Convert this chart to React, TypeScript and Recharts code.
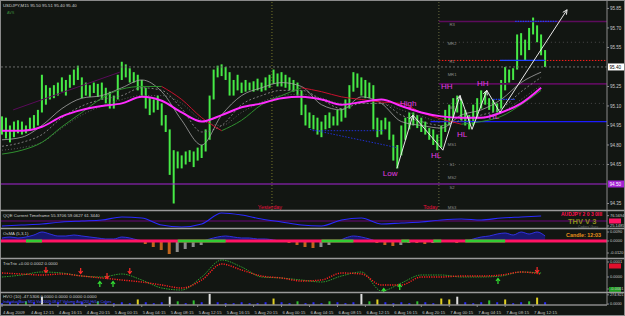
import React from 'react'
import { ComposedChart, Bar, Line, Area, Scatter, XAxis, YAxis, ReferenceLine, Cell } from 'recharts'

// USDJPY,M15 4-7 Aug 2009, one candle sample every 2 bars
const candleHigh = [
  95.02, 95.01, 94.95, 94.98, 94.99, 94.98, 94.95, 95.01, 95.03, 95.07,
  95.34, 95.26, 95.24, 95.26, 95.28, 95.32, 95.3, 95.34, 95.38, 95.41,
  95.32, 95.28, 95.26, 95.28, 95.27, 95.28, 95.24, 95.21, 95.18, 95.34,
  95.44, 95.42, 95.39, 95.36, 95.34, 95.3, 95.24, 95.16, 95.15, 95.18,
  95.12, 95.03, 94.92, 94.76, 94.75, 94.72, 94.75, 94.76, 94.75, 94.78,
  94.8, 94.92, 95.18, 95.38, 95.41, 95.42, 95.4, 95.36, 95.3, 95.34,
  95.28, 95.3, 95.28, 95.29, 95.31, 95.28, 95.32, 95.34, 95.38, 95.35,
  95.36, 95.34, 95.32, 95.3, 95.28, 95.22, 95.11, 95.05, 95.03, 95.01,
  94.98, 95.03, 95.05, 95.02, 95.07, 95.08, 95.15, 95.26, 95.36, 95.35,
  95.32, 95.3, 95.28, 95.26, 95.01, 94.99, 95.01, 94.98, 94.88, 94.8,
  94.95, 95.01, 95.05, 95.05, 95.03, 95.01, 94.98, 94.93, 94.92, 94.88,
  94.95, 95.07, 95.11, 95.16, 95.18, 95.15, 95.07, 95.03, 95.11, 95.16,
  95.22, 95.21, 95.16, 95.15, 95.12, 95.3, 95.4, 95.38, 95.39, 95.65,
  95.66, 95.61, 95.7, 95.78, 95.72, 95.65, 95.53,
]
const candleLow = [
  94.88, 94.85, 94.82, 94.86, 94.89, 94.88, 94.89, 94.92, 94.93, 94.95,
  95.05, 95.11, 95.15, 95.16, 95.18, 95.21, 95.18, 95.24, 95.26, 95.3,
  95.16, 95.18, 95.17, 95.2, 95.17, 95.15, 95.12, 95.08, 95.08, 95.15,
  95.3, 95.32, 95.28, 95.28, 95.22, 95.18, 95.08, 95.03, 95.05, 95.07,
  94.95, 94.9, 94.57, 94.35, 94.62, 94.62, 94.65, 94.67, 94.63, 94.68,
  94.7, 94.75, 94.84, 95.15, 95.32, 95.33, 95.3, 95.18, 95.18, 95.22,
  95.2, 95.21, 95.22, 95.21, 95.22, 95.21, 95.22, 95.24, 95.27, 95.25,
  95.25, 95.24, 95.22, 95.21, 95.18, 95.03, 94.95, 94.93, 94.92, 94.88,
  94.86, 94.92, 94.93, 94.95, 94.95, 94.98, 95.01, 95.08, 95.21, 95.24,
  95.18, 95.16, 95.16, 94.92, 94.86, 94.88, 94.92, 94.84, 94.68, 94.62,
  94.72, 94.84, 94.92, 94.95, 94.93, 94.9, 94.88, 94.84, 94.8, 94.76,
  94.78, 94.9, 94.95, 95.01, 95.05, 94.99, 94.95, 94.92, 94.95, 95.01,
  95.08, 95.11, 95.07, 95.05, 95.05, 95.08, 95.22, 95.28, 95.3, 95.38,
  95.49, 95.45, 95.53, 95.65, 95.59, 95.49, 95.4,
]

// moving averages, one value every 5 candle samples
const MA_STEP = 5
const maMagenta = [94.91, 94.91, 94.94, 95.02, 95.07, 95.1, 95.12, 95.17, 95.14, 95.05, 94.98, 95.03, 95.09, 95.12, 95.16, 95.17, 95.15, 95.11, 95.13, 95.15, 95.1, 95.05, 95.02, 95.01, 95.01, 95.05, 95.12, 95.24]
const maTrend = [94.73, 94.76, 94.82, 94.94, 95.05, 95.16, 95.23, 95.25, 95.25, 95.15, 95.01, 94.91, 94.99, 95.11, 95.18, 95.24, 95.21, 95.17, 95.15, 95.13, 95.12, 95.05, 95.0, 94.96, 94.98, 95.02, 95.11, 95.22]
const maFast = [94.84, 94.86, 94.95, 95.08, 95.16, 95.18, 95.24, 95.3, 95.21, 94.99, 94.8, 95.03, 95.18, 95.24, 95.28, 95.25, 95.11, 95.07, 95.17, 95.12, 94.98, 94.95, 94.93, 95.03, 95.07, 95.15, 95.28, 95.36]
const maMid = [94.79, 94.82, 94.88, 95.01, 95.1, 95.15, 95.18, 95.24, 95.22, 95.08, 94.9, 94.95, 95.11, 95.18, 95.22, 95.22, 95.15, 95.08, 95.12, 95.12, 95.03, 94.98, 94.95, 94.99, 95.03, 95.08, 95.21, 95.32]
const maSlow = [94.76, 94.78, 94.82, 94.93, 95.03, 95.1, 95.15, 95.18, 95.18, 95.12, 94.99, 94.95, 95.05, 95.13, 95.18, 95.19, 95.16, 95.12, 95.12, 95.12, 95.07, 95.02, 94.98, 94.98, 95.01, 95.05, 95.15, 95.26]

// zigzag swings
const zigX = [98.9, 102.9, 110.4, 114.7, 117.7, 121.4, 124.7, 141.5]
const zigP = [94.62, 95.03, 94.76, 95.18, 94.92, 95.22, 95.05, 95.84]
const swingNames = ['Low', 'High', 'HL', 'HH', 'HL', 'HH', 'HL']
const swingX = [97.2, 101.7, 108.7, 111.4, 115.2, 120.4, 123.2]
const swingP = [94.58, 95.12, 94.72, 95.25, 94.88, 95.27, 95.02]

// daily pivots
const pivotNames = ['R3', 'MR2', 'R1', 'MR1', 'M2', 'MS1', 'S1', 'MS2', 'S2', 'MS3']
const pivotLabelP = [95.73, 95.58, 95.44, 95.34, 95.09, 94.8, 94.65, 94.55, 94.47, 94.32]
const pivotDark = [95.75, 95.27]
const pivotRed = 95.45
const pivotFaint = [95.59, 95.12, 94.65]
const blueLevel = 94.98
const blueLevelFrom = 107.3
const blueSegFrom = [128.5, 124.7, 123]
const blueSegTo = [139, 136, 128.5]
const blueSegP = [95.75, 95.45, 95.15]
const blueDiagX = [77.1, 98.9]
const blueDiagP = [94.92, 94.78]
const blueFlatX = [77.8, 95.9]
const blueFlatP = 94.91
const trendLineX = [2.8, 29.5]
const trendLineP = [95.07, 95.36]

const yesterdayX = 67.6
const todayX = 109.4
const lastPrice = 95.4
const roundLevel = 94.5
const priceTicks = [95.85, 95.7, 95.55, 95.25, 95.1, 94.95, 94.8, 94.65, 94.35]

const timeTicks = [0, 7, 14, 21, 28, 35, 42, 49, 56, 63, 70, 77, 84, 91, 98, 105, 112, 119, 126, 133]
const timeLabels = [
  '4 Aug 2009', '4 Aug 12:15', '4 Aug 16:15', '4 Aug 20:15', '5 Aug 00:15', '5 Aug 04:15', '5 Aug 08:15',
  '5 Aug 12:15', '5 Aug 16:15', '5 Aug 20:15', '6 Aug 00:15', '6 Aug 04:15', '6 Aug 08:15', '6 Aug 12:15',
  '6 Aug 16:15', '6 Aug 20:15', '7 Aug 00:15', '7 Aug 04:15', '7 Aug 08:15', '7 Aug 12:15',
]

// sub windows
const qqe = [25, 30, 35, 45, 50, 55, 70, 65, 30, 20, 35, 90, 80, 60, 45, 30, 25, 55, 65, 35, 40, 45, 55, 60, 55, 65, 70, 75]
const qqeTicks = [76.5694, 25.1485]
const trixRed = [0.4, 0.3, 0.2, 0.3, 0.1, -0.1, -0.3, -0.5, -0.8, -1.1, -0.3, 1.3, 0.7, 0.1, -0.1, -0.4, -0.3, 0.4, 0.3, -0.8, -0.8, 0, 0, 0.1, 0.1, 0.2, 0.5, 0.3]
const trixGreen = [0, 0.2, 0.5, 0.4, 0.1, 0, 0.3, -0.3, -1.1, -1.3, 0, 1.7, 1.0, 0, -0.1, -0.3, -0.5, 0.1, 0.5, -1.4, -0.6, 0.2, 0.2, 0, 0, 0.1, 0.5, 0.4]
const trixDownX = [11, 19.7, 26.3, 32, 134]
const trixDownV = [0.7, 0.6, 0.1, 0.6, 0.7]
const trixUpX = [24.5, 27.8, 95.6, 99.6, 124.2]
const trixUpV = [-0.7, -0.7, -1.4, -1.0, -0.4]
const OSC_STEP = 2
const osma = [
  0.003, 0.004, 0.003, 0.004, 0.006, 0.009, 0.007, 0.005, 0.005, 0.006,
  0.005, 0.004, 0.003, 0.002, 0.002, 0.004, 0.003, 0.001, -0.003, -0.006,
  -0.009, -0.013, -0.011, -0.008, -0.006, -0.004, 0.002, 0.004, 0.005, 0.004,
  0.003, 0.003, 0.002, 0.002, 0.001, -0.001, -0.002, -0.004, -0.006, -0.007,
  -0.006, -0.004, -0.001, 0.003, 0.005, 0.004, 0.002, -0.002, -0.004, -0.005,
  -0.004, -0.002, -0.002, -0.003, -0.002, -0.001, -0.001, -0.002, -0.001, 0.002,
  0.004, 0.005, 0.007, 0.008, 0.006, 0.009, 0.007, 0.009, 0.005,
]
const hvo = [
  2, 3, 2, 4, 3, 9, 2, 3, 2, 2,
  3, 2, 4, 2, 2, 3, 2, 6, 3, 2,
  3, 9, 4, 2, 5, 3, 12, 3, 2, 2,
  3, 2, 2, 3, 7, 3, 2, 4, 2, 3,
  2, 4, 3, 2, 3, 12, 4, 6, 3, 2,
  3, 2, 4, 3, 2, 7, 6, 9, 3, 2,
  3, 5, 3, 6, 2, 3, 4, 8, 3,
]

const W = 625
const PLOT_W = 607
const X_DOMAIN: [number, number] = [-0.5, 151.5]
const P_DOMAIN: [number, number] = [94.3, 95.915]
const MAIN_H = 210
const FONT = '"Liberation Sans", Arial, sans-serif'
const BG = '#121612'
const GRID = '#8a8a8a'
const M0 = { top: 0, right: 0, bottom: 0, left: 0 }
const axisTick = { fill: '#c8c8c8', fontSize: 4.5, fontFamily: FONT }

const candleRows = candleHigh.map((h, i) => ({ i, range: [candleLow[i], h] }))
const rising = (k: number) => maTrend[k] >= maTrend[k - 1]
const maRows = maMagenta.map((v, k) => {
  const n = maTrend.length
  const up = (k > 0 && rising(k)) || (k < n - 1 && rising(k + 1))
  const down = (k > 0 && !rising(k)) || (k < n - 1 && !rising(k + 1))
  return {
    i: k * MA_STEP,
    magenta: v,
    fast: maFast[k],
    mid: maMid[k],
    slow: maSlow[k],
    up: up ? maTrend[k] : null,
    down: down ? maTrend[k] : null,
    qqe: qqe[k],
    tr: trixRed[k],
    tg: trixGreen[k],
  }
})
const zigRows = zigX.map((x, k) => ({ i: x, p: zigP[k] }))
const swingRows = swingNames.map((name, k) => ({ i: swingX[k], p: swingP[k], name }))
const pivotRows = pivotNames.map((name, k) => ({ i: todayX + 3.3, p: pivotLabelP[k], name }))
const trixDownRows = trixDownX.map((x, k) => ({ i: x, v: trixDownV[k] }))
const trixUpRows = trixUpX.map((x, k) => ({ i: x, v: trixUpV[k] }))
const oscRows = osma.map((v, j) => ({
  i: j * OSC_STEP,
  pos: v > 0 ? v : 0,
  neg: v < 0 ? v : null,
  zg: j > 0 && v > osma[j - 1] ? 0 : null,
  hvo: hvo[j],
}))

const pxPerI = PLOT_W / (X_DOMAIN[1] - X_DOMAIN[0])
const pxPerP = MAIN_H / (P_DOMAIN[1] - P_DOMAIN[0])

// arrowheads at the top of every up-leg of the zigzag
function ZigArrow(props: any) {
  const { cx, cy, index } = props
  if (!index || cx == null) return <g key={`za${index}`} />
  const dx = (zigX[index] - zigX[index - 1]) * pxPerI
  const dy = -(zigP[index] - zigP[index - 1]) * pxPerP
  if (dy >= 0) return <g key={`za${index}`} />
  const a = Math.atan2(dy, dx)
  const L = 5
  const x1 = cx - L * Math.cos(a - 0.45)
  const y1 = cy - L * Math.sin(a - 0.45)
  const x2 = cx - L * Math.cos(a + 0.45)
  const y2 = cy - L * Math.sin(a + 0.45)
  return <path key={`za${index}`} d={`M${x1},${y1}L${cx},${cy}L${x2},${y2}`} stroke="#e8e8e8" fill="none" strokeWidth={1} />
}

// high-low candle, centred on the bar slot
function CandleShape(p: any) {
  const { x, y, width, height } = p
  if (x == null || y == null || height == null) return <g />
  const cx = x + width / 2
  const top = Math.min(y, y + height)
  return <rect x={cx - 1} y={top} width={2} height={Math.max(Math.abs(height), 1)} fill="#46ea46" />
}

const textShape = (fill: string, size: number) => (p: any) => (
  <text x={p.cx} y={p.cy} fill={fill} fontSize={size} fontFamily={FONT} textAnchor="middle" dominantBaseline="central">
    {p.payload.name}
  </text>
)

const arrowShape = (up: boolean) => (p: any) => {
  const { cx, cy } = p
  const c = up ? '#33e033' : '#ff2a2a'
  const d = up
    ? `M${cx},${cy + 3}L${cx},${cy - 2}M${cx - 2},${cy}L${cx},${cy - 2.5}L${cx + 2},${cy}`
    : `M${cx},${cy - 3}L${cx},${cy + 2}M${cx - 2},${cy}L${cx},${cy + 2.5}L${cx + 2},${cy}`
  return <path d={d} stroke={c} strokeWidth={1.2} fill="none" />
}

const priceBox = (bg: string, fg: string, text: string) => (props: any) => {
  const vb = props.viewBox
  if (!vb) return null
  const x = vb.x + vb.width + 1
  return (
    <g>
      <rect x={x} y={vb.y - 3.5} width={16} height={7} fill={bg} />
      <text x={x + 1.5} y={vb.y + 1.7} fill={fg} fontSize={4.6} fontFamily={FONT}>
        {text}
      </text>
    </g>
  )
}

const dayLabel = (text: string, anchor: 'middle' | 'end', dx: number) => (props: any) => {
  const vb = props.viewBox
  if (!vb) return null
  return (
    <text x={vb.x + dx} y={vb.y + vb.height - 1} fill="#e8103c" fontSize={5.5} fontFamily={FONT} textAnchor={anchor}>
      {text}
    </text>
  )
}

const smallBox = (bg: string) => (props: any) => {
  const vb = props.viewBox
  if (!vb) return null
  return <rect x={vb.x + vb.width + 2} y={vb.y - 2.5} width={12} height={5} fill={bg} />
}

function TimeTick(props: any) {
  const { x, y, index } = props
  return (
    <text x={x + 1} y={y + 4.5} fill="#c0c0c0" fontSize={4.3} fontFamily={FONT}>
      {timeLabels[index]}
    </text>
  )
}

const xAxisHidden = <XAxis type="number" dataKey="i" domain={X_DOMAIN} allowDataOverflow hide />

function yAxis(domain: [number, number], ticks: number[], fmt: (v: number) => string, size = 4.5) {
  return (
    <YAxis
      orientation="right"
      width={18}
      domain={domain}
      allowDataOverflow
      ticks={ticks}
      interval={0}
      tickFormatter={fmt}
      tick={{ ...axisTick, fontSize: size }}
      tickSize={2}
      tickMargin={1}
      tickLine={{ stroke: GRID }}
      axisLine={{ stroke: GRID }}
    />
  )
}

function PriceChart() {
  const end = X_DOMAIN[1]
  return (
    <ComposedChart width={W} height={MAIN_H} data={candleRows} margin={M0}>
      {xAxisHidden}
      {yAxis(P_DOMAIN, priceTicks, (v) => v.toFixed(2))}
      <ReferenceLine y={roundLevel} stroke="#a424d4" strokeWidth={1.2} label={priceBox('#a424d4', '#ffffff', roundLevel.toFixed(2))} />
      <ReferenceLine y={lastPrice} stroke="#6c6c6c" strokeDasharray="2 2" label={priceBox('#ffffff', '#000000', lastPrice.toFixed(2))} />
      <ReferenceLine x={yesterdayX} stroke="#77772a" strokeDasharray="1 2" label={dayLabel('Yesterday', 'middle', -2)} />
      <ReferenceLine x={todayX} stroke="#6a6a40" strokeDasharray="1 2" label={dayLabel('Today', 'end', -1)} />
      {pivotDark.map((p) => (
        <ReferenceLine key={`pd${p}`} segment={[{ x: todayX, y: p }, { x: end, y: p }]} stroke="#5c0c5c" strokeWidth={1.6} />
      ))}
      {pivotFaint.map((p) => (
        <ReferenceLine key={`pf${p}`} segment={[{ x: todayX, y: p }, { x: end, y: p }]} stroke="#4a4a4a" strokeDasharray="1 3" />
      ))}
      <ReferenceLine segment={[{ x: todayX, y: pivotRed }, { x: end, y: pivotRed }]} stroke="#ff1a1a" strokeDasharray="1.5 1.5" />
      <ReferenceLine segment={[{ x: blueLevelFrom, y: blueLevel }, { x: end, y: blueLevel }]} stroke="#1c1cff" strokeWidth={1.2} />
      {blueSegP.map((p, k) => (
        <ReferenceLine
          key={`bs${k}`}
          segment={[{ x: blueSegFrom[k], y: p }, { x: blueSegTo[k], y: p }]}
          stroke="#2040ff"
          strokeWidth={1.2}
          strokeDasharray={k === 1 ? undefined : '1.5 1'}
        />
      ))}
      <ReferenceLine segment={[{ x: blueDiagX[0], y: blueDiagP[0] }, { x: blueDiagX[1], y: blueDiagP[1] }]} stroke="#2030d0" strokeDasharray="1.5 1.5" />
      <ReferenceLine segment={[{ x: blueFlatX[0], y: blueFlatP }, { x: blueFlatX[1], y: blueFlatP }]} stroke="#2030d0" strokeDasharray="1.5 1.5" />
      <ReferenceLine segment={[{ x: trendLineX[0], y: trendLineP[0] }, { x: trendLineX[1], y: trendLineP[1] }]} stroke="#5a0a5a" />

      <Line data={maRows} dataKey="slow" stroke="#5c5c5c" strokeDasharray="1 2" dot={false} activeDot={false} type="monotone" isAnimationActive={false} />
      <Line data={maRows} dataKey="mid" stroke="#7c7c7c" strokeDasharray="2 2" dot={false} activeDot={false} type="monotone" isAnimationActive={false} />
      <Line data={maRows} dataKey="fast" stroke="#a4a4a4" strokeWidth={0.8} dot={false} activeDot={false} type="monotone" isAnimationActive={false} />
      <Bar dataKey="range" barSize={3} fill="#46ea46" shape={CandleShape} activeBar={false} isAnimationActive={false} />
      <Line data={maRows} dataKey="up" stroke="#2f8f2f" dot={false} activeDot={false} type="monotone" isAnimationActive={false} />
      <Line data={maRows} dataKey="down" stroke="#c8102e" dot={false} activeDot={false} type="monotone" isAnimationActive={false} />
      <Line data={maRows} dataKey="magenta" stroke="#ff2cff" strokeWidth={2} dot={false} activeDot={false} type="monotone" isAnimationActive={false} />
      <Line data={zigRows} dataKey="p" stroke="#e8e8e8" strokeWidth={1} dot={ZigArrow} activeDot={false} isAnimationActive={false} />
      <Scatter data={pivotRows} dataKey="p" shape={textShape('#8a8a8a', 4.2)} activeShape={false} isAnimationActive={false} />
      <Scatter data={swingRows} dataKey="p" shape={textShape('#e23ce2', 8)} activeShape={false} isAnimationActive={false} />
    </ComposedChart>
  )
}

function QqeChart() {
  return (
    <ComposedChart width={W} height={17} data={maRows} margin={M0}>
      {xAxisHidden}
      {yAxis([15, 100], qqeTicks, (v) => v.toFixed(4), 4)}
      <ReferenceLine y={50} stroke="#4e0c58" strokeWidth={1.6} label={smallBox('#ff1464')} />
      <Line dataKey="qqe" stroke="#2a2aff" strokeWidth={1.1} dot={false} activeDot={false} type="monotone" isAnimationActive={false} />
    </ComposedChart>
  )
}

function OsmaChart() {
  return (
    <ComposedChart width={W} height={29} data={oscRows} margin={M0}>
      {xAxisHidden}
      {yAxis([-0.017, 0.012], [0.009, 0, -0.012], (v) => v.toFixed(4), 4)}
      <Area dataKey="pos" stroke="#3030e0" fill="#17176e" fillOpacity={1} type="monotone" activeDot={false} isAnimationActive={false} />
      <Bar dataKey="neg" barSize={3} activeBar={false} isAnimationActive={false}>
        {osma.map((v, j) => (
          <Cell key={j} fill={j > 0 && v <= osma[j - 1] ? '#c0641c' : '#8c8c8c'} />
        ))}
      </Bar>
      <ReferenceLine y={0} stroke="#ff1464" strokeWidth={3} />
      <Line dataKey="zg" stroke="#33cc33" strokeWidth={3} dot={false} activeDot={false} isAnimationActive={false} />
    </ComposedChart>
  )
}

function TrixChart() {
  return (
    <ComposedChart width={W} height={33} data={maRows} margin={M0}>
      {xAxisHidden}
      {yAxis([-1.5, 1.8], [1.5, 0, -1.2], (v) => (v / 10000).toFixed(4), 4)}
      <ReferenceLine y={1.1} stroke="none" label={smallBox('#e0102c')} />
      <ReferenceLine y={-1.25} stroke="none" label={smallBox('#1c9c1c')} />
      <Line dataKey="tg" stroke="#2ea02e" strokeDasharray="1.5 1" dot={false} activeDot={false} type="monotone" isAnimationActive={false} />
      <Line dataKey="tr" stroke="#ff2020" strokeWidth={1.4} strokeDasharray="1.2 1.2" dot={false} activeDot={false} type="monotone" isAnimationActive={false} />
      <Scatter data={trixDownRows} dataKey="v" shape={arrowShape(false)} activeShape={false} isAnimationActive={false} />
      <Scatter data={trixUpRows} dataKey="v" shape={arrowShape(true)} activeShape={false} isAnimationActive={false} />
    </ComposedChart>
  )
}

function HvoChart() {
  return (
    <ComposedChart width={W} height={23} data={oscRows} margin={M0}>
      <XAxis
        type="number"
        dataKey="i"
        domain={X_DOMAIN}
        allowDataOverflow
        ticks={timeTicks}
        interval={0}
        height={11}
        tick={<TimeTick />}
        tickSize={2}
        tickLine={{ stroke: GRID }}
        axisLine={{ stroke: GRID, strokeWidth: 1.5 }}
      />
      {yAxis([0, 13], [11, 1], (v) => (v > 5 ? '274.821' : '0.0000'), 3.8)}
      <Bar dataKey="hvo" barSize={2} activeBar={false} isAnimationActive={false}>
        {hvo.map((v, j) => (
          <Cell key={j} fill={v >= 9 ? '#e0e0e0' : v >= 6 ? '#e0d020' : v >= 4 ? '#30c030' : '#2a2aff'} />
        ))}
      </Bar>
    </ComposedChart>
  )
}

const txt = { fontFamily: FONT }

export default function App() {
  return (
    <div style={{ position: 'fixed', left: 0, top: 0, width: W, height: 316, background: BG, overflow: 'hidden' }}>
      <div style={{ position: 'absolute', left: 0, top: 0 }}>
        <PriceChart />
      </div>
      <div style={{ position: 'absolute', left: 0, top: 211 }}>
        <QqeChart />
      </div>
      <div style={{ position: 'absolute', left: 0, top: 229 }}>
        <OsmaChart />
      </div>
      <div style={{ position: 'absolute', left: 0, top: 259 }}>
        <TrixChart />
      </div>
      <div style={{ position: 'absolute', left: 0, top: 293 }}>
        <HvoChart />
      </div>
      <svg width={W} height={316} style={{ position: 'absolute', left: 0, top: 0, pointerEvents: 'none' }}>
        <rect x={0.5} y={0.5} width={W - 1} height={315} fill="none" stroke={GRID} />
        {[210.5, 228.5, 258.5, 292.5].map((y) => (
          <line key={y} x1={0} x2={W} y1={y} y2={y} stroke="#9a9a9a" strokeWidth={1.5} />
        ))}
        <text x={3} y={6.5} fill="#d0d0d0" fontSize={4.3} style={txt}>USDJPY,M15  95.50 95.51 95.40 95.40</text>
        <text x={7} y={13.5} fill="#3a8a3a" fontSize={3.8} style={txt}>AVS</text>
        <text x={3} y={217} fill="#d0d0d0" fontSize={4.3} style={txt}>QQE Current Timeframe 55.3706 59.0627 61.3440</text>
        <text x={3} y={234.5} fill="#d0d0d0" fontSize={4.3} style={txt}>OsMA (5,3,1)</text>
        <text x={3} y={264.5} fill="#d0d0d0" fontSize={4.3} style={txt}>TrixTrix +0.00 0.0002 0.0000</text>
        <text x={3} y={298} fill="#d0d0d0" fontSize={4.3} style={txt}>HVO (10) -47.5306 0.0000 0.0000 0.0000 0.0000</text>
        <text x={3} y={302.8} fill="#4a4aff" fontSize={3.8} style={txt}>IndividualBars M15 Vol 2009.08.07 Volume Avg(20) Hi/Lo Colors</text>
        <text x={561} y={215.5} fill="#ff1050" fontSize={5} fontWeight="bold" style={txt}>AUDJPY 2 0 3 0III</text>
        <text x={568} y={224} fill="#8c8c1c" fontSize={7.5} fontWeight="bold" style={txt}>THV V 3</text>
        <text x={578} y={228} fill="#6a6a6a" fontSize={3.4} style={txt}>Coders' Guru</text>
        <text x={566} y={237} fill="#e8901a" fontSize={5.4} fontWeight="bold" style={txt}>Candle: 12:03</text>
      </svg>
    </div>
  )
}
